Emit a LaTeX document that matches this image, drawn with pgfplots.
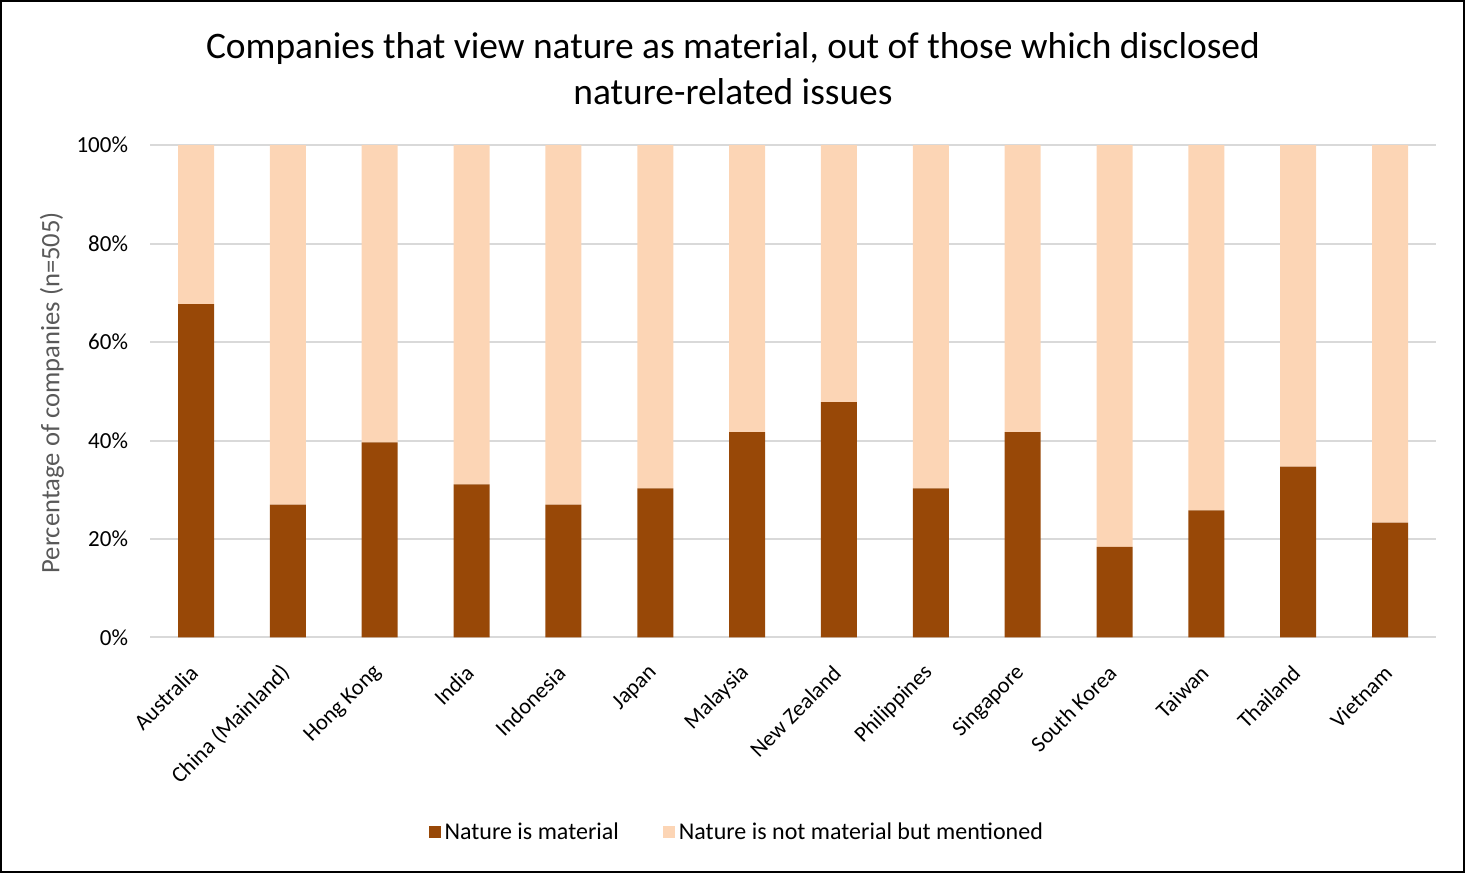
\documentclass[border=0pt]{standalone}
\usepackage{fontspec}
\setmainfont{Carlito}
\usepackage{pgfplots}
\usepackage{pgfplotstable}
\pgfplotsset{compat=1.18}

\definecolor{material}{HTML}{984807}
\definecolor{mentioned}{HTML}{FCD5B5}
\definecolor{gridgray}{HTML}{D9D9D9}
\definecolor{labelgray}{HTML}{595959}

% share of companies per market (percent)
\pgfplotstableread{
idx material mentioned
0  67.7 32.3
1  27.0 73.0
2  39.6 60.4
3  31.1 68.9
4  27.0 73.0
5  30.3 69.7
6  41.7 58.3
7  47.8 52.2
8  30.3 69.7
9  41.7 58.3
10 18.4 81.6
11 25.8 74.2
12 34.7 65.3
13 23.3 76.7
}\datatable

\begin{document}
\begin{tikzpicture}
\begin{axis}[
  scale only axis,
  width=642.5pt, height=246pt,
  ybar stacked, bar width=18pt,
  xmin=-0.5, xmax=13.5, ymin=0, ymax=100,
  clip=false,
  axis line style={draw=none},
  major tick length=0pt,
  ymajorgrids, grid style={gridgray, line width=1pt},
  ytick={0,20,40,60,80,100},
  yticklabel={\pgfmathprintnumber[assume math mode=true]{\tick}\%},
  y tick label style={font=\fontsize{11.5}{13}\selectfont, xshift=-7.5pt},
  xtick={0,...,13},
  xticklabels={Australia, China (Mainland), Hong Kong, India, Indonesia, Japan, Malaysia, New Zealand, Philippines, Singapore, South Korea, Taiwan, Thailand, Vietnam},
  x tick label style={font=\fontsize{11.2}{13}\selectfont, xshift=-0.8pt, yshift=-15.8pt, rotate=45, anchor=east, inner sep=0pt},
  ylabel={Percentage of companies (n=505)},
  ylabel style={at={(axis description cs:-0.0763,0.497)}, anchor=center, rotate=0, text=labelgray, font=\fontsize{13.3}{15}\selectfont},
  title={Companies that view nature as material, out of those which disclosed\\nature-related issues},
  title style={at={(axis description cs:0.4533,1.130)}, anchor=center, align=center, font=\fontsize{18.7}{23}\selectfont},
  legend style={at={(axis description cs:0.457,-0.396)}, anchor=center, draw=none, legend columns=2,
    font=\fontsize{12}{14}\selectfont,
    /tikz/every even column/.append style={column sep=20pt}},
  legend image code/.code={\fill[#1, draw=none] (0pt,-3pt) rectangle (6pt,3pt);},
]
\addplot[fill=material, draw=none] table[x=idx, y=material] {\datatable};
\addplot[fill=mentioned, draw=none] table[x=idx, y=mentioned] {\datatable};
\legend{Nature is material, Nature is not material but mentioned}
\draw[black, line width=1pt] (axis description cs:-0.11595,-0.47561) rectangle (axis description cs:1.02179,1.29268);
\end{axis}
\end{tikzpicture}
\end{document}
